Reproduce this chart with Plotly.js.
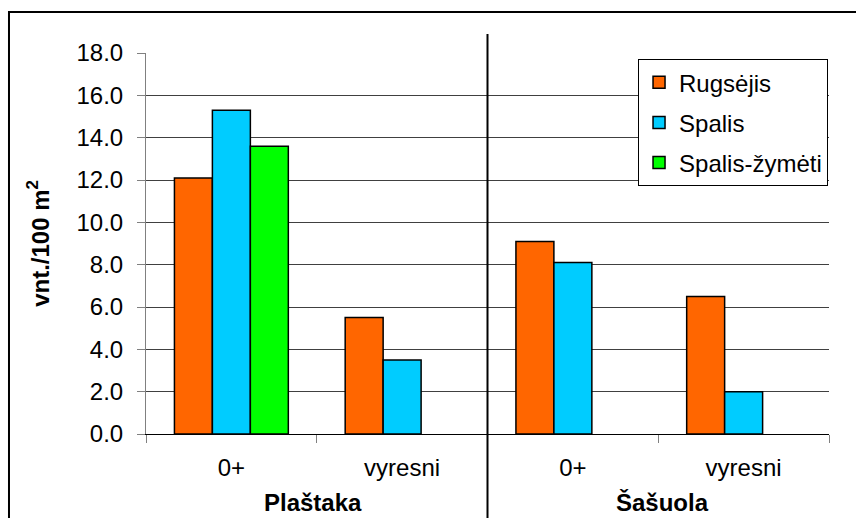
<!DOCTYPE html>
<html>
<head>
<meta charset="utf-8">
<script src="https://cdn.plot.ly/plotly-3.0.1.min.js"></script>
<style>
  html, body { margin: 0; padding: 0; background: #fff; }
  #chart { width: 856px; height: 518px; }
</style>
</head>
<body>
<div id="chart"></div>
<script>
// ---- data ----
const groups = ["Plaštaka", "Plaštaka", "Šašuola", "Šašuola"];
const ages = ["0+", "vyresni", "0+", "vyresni"];
const groupLabels = ["Plaštaka", "Šašuola"];
const seriesNames = ["Rugsėjis", "Spalis", "Spalis-žymėti"];
const rugsejis = [12.1, 5.5, 9.1, 6.5];
const spalis = [15.3, 3.5, 8.1, 2.0];
const spalisZymeti = [13.6, null, null, null];
const yTicks = [0, 2, 4, 6, 8, 10, 12, 14, 16, 18];

// ---- build ----
const xIds = groups.map((g, i) => g + " " + ages[i]);
const colors = ["#FF6600", "#00CCFF", "#00FF00"];
const values = [rugsejis, spalis, spalisZymeti];
const FONT = "Liberation Sans, Arial, sans-serif";

const traces = values.map((v, k) => ({
  type: "bar",
  x: xIds,
  y: v,
  name: seriesNames[k],
  legendgroup: "g" + k,
  marker: { color: colors[k], line: { color: "#000000", width: 1.5 } },
  hoverinfo: "skip"
}));

const layout = {
  width: 856,
  height: 518,
  margin: { l: 146, r: 27, t: 53, b: 84 },
  paper_bgcolor: "#ffffff",
  plot_bgcolor: "#ffffff",
  font: { family: FONT, size: 24, color: "#000000" },
  barmode: "group",
  bargap: 0.333,
  bargroupgap: 0,
  showlegend: true,
  legend: {
    x: 0.7204, xanchor: "left",
    y: 0.984, yanchor: "top",
    bgcolor: "#ffffff",
    bordercolor: "#000000",
    borderwidth: 1,
    tracegroupgap: 6,
    font: { family: FONT, size: 24, color: "#000000" }
  },
  xaxis: {
    type: "category",
    tickmode: "array",
    tickvals: xIds,
    ticktext: ages,
    tickson: "boundaries",
    ticks: "outside",
    ticklen: 8,
    tickcolor: "#808080",
    tickwidth: 1,
    ticklabelstandoff: 12,
    showline: true,
    linecolor: "#000000",
    linewidth: 1,
    showgrid: false,
    range: [-0.5, 3.5],
    tickfont: { family: FONT, size: 24, color: "#000000" }
  },
  yaxis: {
    range: [0, 18],
    tickmode: "array",
    tickvals: yTicks,
    tickformat: ".1f",
    ticks: "outside",
    ticklen: 8,
    tickcolor: "#808080",
    tickwidth: 1,
    ticklabelstandoff: 9,
    showline: true,
    linecolor: "#808080",
    linewidth: 1,
    showgrid: true,
    gridcolor: "#404040",
    gridwidth: 1,
    zeroline: false,
    tickfont: { family: FONT, size: 24, color: "#000000" },
    title: {
      text: "<b>vnt./100 m<sup>2</sup></b>",
      font: { family: FONT, size: 24, color: "#000000" },
      standoff: 20
    }
  },
  shapes: [
    // divider between groups
    { type: "line", xref: "x", yref: "paper", x0: 1.5, x1: 1.5, y0: -0.3, y1: 1.05,
      line: { color: "#000000", width: 2 } },
    // outer chart border
    { type: "rect", xref: "paper", yref: "paper", x0: -0.2006, x1: 1.2, y0: -0.4, y1: 1.1076,
      line: { color: "#000000", width: 2 }, fillcolor: "rgba(0,0,0,0)", layer: "above" }
  ],
  annotations: [
    { text: "<b>" + groupLabels[0] + "</b>", xref: "x", yref: "paper", x: 0.5, y: -0.1798,
      xanchor: "center", yanchor: "middle", showarrow: false, xshift: -4,
      font: { family: FONT, size: 24, color: "#000000" } },
    { text: "<b>" + groupLabels[1] + "</b>", xref: "x", yref: "paper", x: 2.5, y: -0.1798,
      xanchor: "center", yanchor: "middle", showarrow: false, xshift: 4,
      font: { family: FONT, size: 24, color: "#000000" } }
  ]
};

Plotly.newPlot("chart", traces, layout, { staticPlot: true, displayModeBar: false });
</script>
</body>
</html>
